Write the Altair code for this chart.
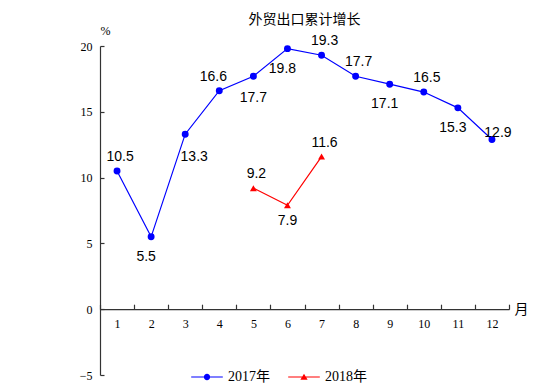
import math
import altair as alt
import pandas as pd

# ---- data ----
months = [1, 2, 3, 4, 5, 6, 7, 8, 9, 10, 11, 12]
values_2017 = [10.5, 5.5, 13.3, 16.6, 17.7, 19.8, 19.3, 17.7, 17.1, 16.5, 15.3, 12.9]
months_2018 = [5, 6, 7]
values_2018 = [9.2, 7.9, 11.6]
series_names = ["2017年", "2018年"]
label_place_2017 = ["above", "below_left", "below_right", "above_left", "below", "below_left",
                    "above", "above", "below_left", "above", "below_left", "right"]
label_place_2018 = ["above", "below_near", "above"]
y_ticks = [-5, 0, 5, 10, 15, 20]

# ---- styling ----
colors = ["#0000FF", "#FF0000"]
offsets = {
    "above": (3, -14),
    "above_left": (-6, -14),
    "below": (0, 22),
    "below_near": (0, 16),
    "below_left": (-5, 20),
    "below_right": (9, 23),
    "right": (6, -6),
}
W, H = 409, 329
SERIF = "Liberation Serif, Noto Sans CJK SC"
CJK = "Noto Sans CJK SC"

rows = []
for m, v, p in zip(months, values_2017, label_place_2017):
    rows.append({"month": m, "value": v, "series": series_names[0], "place": p})
for m, v, p in zip(months_2018, values_2018, label_place_2018):
    rows.append({"month": m, "value": v, "series": series_names[1], "place": p})
df = pd.DataFrame(rows)

# legend symbols: line + marker as custom paths (unit coords, scaled by sqrt(size)/2)
def poly(points):
    return "M" + " L".join(f"{x:.3f},{y:.3f}" for x, y in points) + " Z"

line_path = "M-1,-0.035 L1,-0.035 L1,0.035 L-1,0.035 Z"
r = 0.2
circle_pts = [(r * math.cos(2 * math.pi * k / 16), r * math.sin(2 * math.pi * k / 16)) for k in range(16)]
circle_path = line_path + " " + poly(circle_pts)
tri_path = line_path + " " + poly([(0, -0.21), (0.23, 0.17), (-0.23, 0.17)])

xscale = alt.Scale(type="band", domain=months, paddingInner=0, paddingOuter=0)
yscale = alt.Scale(domain=[-5, 20], nice=False, zero=False)
cscale = alt.Scale(domain=series_names, range=colors)

x_axis = alt.Axis(
    orient="top", offset=-(H * 20 / 25), tickBand="extent", tickSize=5,
    labelPadding=-19, labelBaseline="middle", labelAngle=0,
    labelFont="Liberation Serif", labelFontSize=12, labelColor="black",
    domainColor="#333333", tickColor="#333333", domainWidth=1.2, tickWidth=1.2,
    grid=False, title="月", titleAngle=0, titleX=W + 12, titleY=0,
    titleAlign="center", titleBaseline="middle", titleFont=CJK,
    titleFontSize=14, titleFontWeight="normal", titleColor="black",
)
y_axis = alt.Axis(
    orient="right", offset=-W, values=y_ticks, tickSize=4,
    labelPadding=-12, labelAlign="right", labelFont="Liberation Serif",
    labelFontSize=12, labelColor="black",
    domainColor="#333333", tickColor="#333333", domainWidth=1.2, tickWidth=1.2,
    grid=False, title="%", titleAngle=0, titleX=5, titleY=-16,
    titleAlign="center", titleBaseline="middle", titleFont="Liberation Serif",
    titleFontSize=12, titleFontWeight="normal", titleColor="black",
)

X = alt.X("month:O", scale=xscale, axis=x_axis)
Y = alt.Y("value:Q", scale=yscale, axis=y_axis)

base = alt.Chart(df)

lines = base.mark_line(strokeWidth=1.2).encode(
    x=X, y=Y,
    color=alt.Color("series:N", scale=cscale, legend=None),
    detail="series:N",
)

points = base.mark_point(filled=True, opacity=1, size=48).encode(
    x=X, y=Y,
    color=alt.Color("series:N", scale=cscale, legend=None),
    shape=alt.Shape("series:N", scale=alt.Scale(domain=series_names, range=["circle", "triangle-up"]), legend=None),
)

text_layers = []
for name, (dx, dy) in offsets.items():
    text_layers.append(
        base.transform_filter(alt.datum.place == name)
        .mark_text(dx=dx, dy=dy, baseline="middle", align="center",
                   font="Liberation Sans", fontSize=14, color="black")
        .encode(x=X, y=Y, text=alt.Text("value:Q", format=".1f"))
    )

legend_kw = dict(title=None, orient="none", direction="horizontal",
                 legendX=91, legendY=315, padding=0,
                 symbolSize=1000, symbolStrokeWidth=0,
                 labelFont=SERIF, labelFontSize=14, labelColor="black",
                 labelOffset=5, columnPadding=18)

legend_layer = base.transform_filter("false").mark_point(filled=True, opacity=1, size=1000).encode(
    x=X, y=Y,
    color=alt.Color("series:N", scale=alt.Scale(domain=series_names, range=colors),
                    legend=alt.Legend(**legend_kw)),
    shape=alt.Shape("series:N", scale=alt.Scale(domain=series_names, range=[circle_path, tri_path]),
                    legend=alt.Legend(**legend_kw)),
)

chart = (
    alt.layer(lines, points, *text_layers, legend_layer)
    .resolve_scale(color="independent", shape="independent")
    .properties(
        width=W, height=H,
        autosize=alt.AutoSizeParams(type="none"),
        padding={"left": 92, "top": 38, "right": 38, "bottom": 8},
        title=alt.Title("外贸出口累计增长", font=CJK, fontSize=14, fontWeight="normal",
                        color="black", anchor="middle", offset=0, dy=3),
        background="white",
    )
    .configure_view(strokeWidth=0, stroke="transparent")
)

chart.save("out.html", embed_options={"renderer": "svg", "actions": False})
